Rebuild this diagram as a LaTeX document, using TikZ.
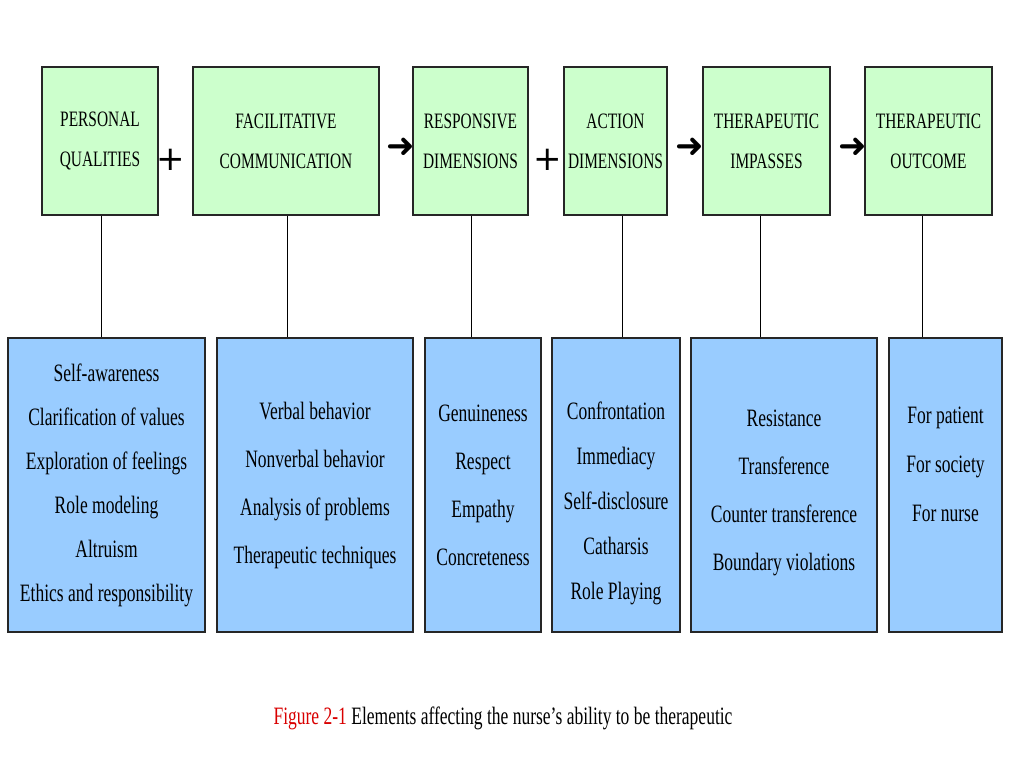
\documentclass[tikz,border=0pt]{standalone}
\usepackage{fontspec}
\setmainfont{Liberation Serif}[FakeStretch=0.7]
\newfontfamily\symfont{DejaVu Sans}
\begin{document}
\begin{tikzpicture}[x=1pt,y=-1pt,
  top/.style={draw=black!85,line width=1.5pt,fill=green!20!white,minimum height=148pt,align=center,font=\fontsize{22}{40}\selectfont,inner sep=0pt},
  bot/.style={draw=black!85,line width=1.5pt,fill={rgb,255:red,153;green,204;blue,255},minimum height=294pt,align=center,font=\fontsize{25}{44}\selectfont,inner sep=0pt},
  txt/.style={align=center,inner sep=0pt},
  link/.style={draw=black,line width=0.6pt},
  sym/.style={font=\symfont\fontsize{34}{34}\selectfont,inner sep=0pt}]
\useasboundingbox (0,0) rectangle (1024,768);
\fill[white] (0,0) rectangle (1024,768);
% top boxes
\node[top,minimum width=116pt] (t1) at (100,141) {PERSONAL\\QUALITIES};
\node[top,minimum width=186pt] (t2) at (286,141) {FACILITATIVE\\COMMUNICATION};
\node[top,minimum width=115pt] (t3) at (470.5,141) {RESPONSIVE\\DIMENSIONS};
\node[top,minimum width=103pt] (t4) at (615.5,141) {ACTION\\DIMENSIONS};
\node[top,minimum width=127pt] (t5) at (766.5,141) {THERAPEUTIC\\IMPASSES};
\node[top,minimum width=127pt] (t6) at (928.5,141) {THERAPEUTIC\\OUTCOME};
% bottom boxes
\node[bot,minimum width=197pt] (b1) at (106.5,485) {Self-awareness\\Clarification of values\\Exploration of feelings\\Role modeling\\Altruism\\Ethics and responsibility};
\node[bot,minimum width=196pt,font=\fontsize{25}{48}\selectfont] (b2) at (315,485) {Verbal behavior\\Nonverbal behavior\\Analysis of problems\\Therapeutic techniques};
\node[bot,minimum width=116pt,font=\fontsize{25}{48}\selectfont] (b3) at (483,485) {Genuineness\\Respect\\Empathy\\Concreteness};
\node[bot,minimum width=128pt,font=\fontsize{25}{45}\selectfont] (b4) at (616,485) {};
\node[txt,font=\fontsize{25}{45}\selectfont] (l4) at (616,503) {Confrontation\\Immediacy\\Self-disclosure\\Catharsis\\Role Playing};
\node[bot,minimum width=186pt] (b5) at (784,485) {};
\node[txt,font=\fontsize{25}{48}\selectfont] (l5) at (784,493) {Resistance\\Transference\\Counter transference\\Boundary violations};
\node[bot,minimum width=113pt] (b6) at (945.5,485) {};
\node[txt,font=\fontsize{25}{49}\selectfont] (l6) at (945.5,464) {For patient\\For society\\For nurse};
% links
\draw[link] (t1.south -| 101,0) -- (b1.north -| 101,0);
\draw[link] (t2.south -| 287,0) -- (b2.north -| 287,0);
\draw[link] (t3.south -| 471,0) -- (b3.north -| 471,0);
\draw[link] (t4.south -| 622,0) -- (b4.north -| 622,0);
\draw[link] (t5.south -| 760,0) -- (b5.north -| 760,0);
\draw[link] (t6.south -| 922,0) -- (b6.north -| 922,0);
% symbols
\node[sym] (p1) at (171,160) {+};
\node[sym] (a1) at (401,148) {➜};
\node[sym] (p2) at (548,160) {+};
\node[sym] (a2) at (690,148) {➜};
\node[sym] (a3) at (853,148) {➜};
% caption
\node[font=\fontsize{25}{28}\selectfont] (cap) at (503,718) {\textcolor{red!85!black}{Figure 2-1} Elements affecting the nurse's ability to be therapeutic};
\end{tikzpicture}
\end{document}
